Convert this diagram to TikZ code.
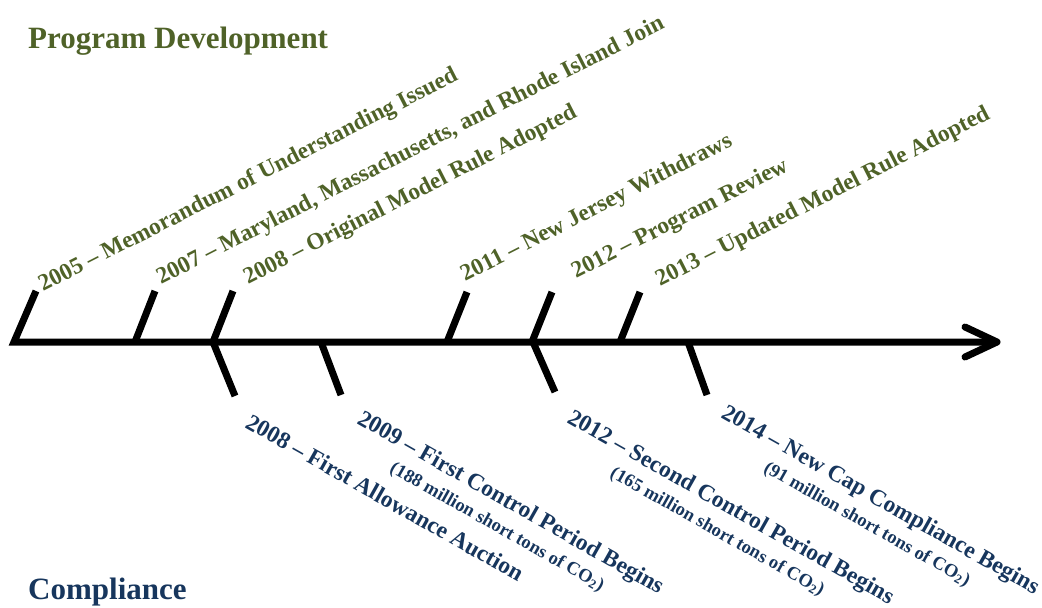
\documentclass[tikz,border=0pt]{standalone}
\usepackage{fontspec}
\setmainfont{Liberation Serif}
\usetikzlibrary{calc}
\definecolor{devgreen}{HTML}{4F6228}
\definecolor{compblue}{HTML}{17365D}
\begin{document}
\begin{tikzpicture}[x=1pt,y=-1pt,
  axisline/.style={line width=7pt, line join=miter},
  tickline/.style={line width=7pt, line cap=butt},
  headline/.style={line width=7pt, line cap=round, line join=round},
  uplabel/.style={anchor=base west, rotate=27, inner sep=0pt, text=devgreen,
    font=\bfseries\fontsize{23.5}{28}\selectfont},
  lowlabel/.style={anchor=base west, rotate=-29.5, inner sep=0pt, text=compblue,
    font=\bfseries\fontsize{23.5}{27}\selectfont},
  sublabel/.style={anchor=base, rotate=-29.5, inner sep=0pt, text=compblue,
    font=\bfseries\fontsize{18.5}{22}\selectfont},
  title/.style={anchor=base west, inner sep=0pt, font=\bfseries\fontsize{31}{37}\selectfont},
]
\useasboundingbox (0,0) rectangle (1042,608);

% axis
\coordinate (start) at (14,342);
\coordinate (tip) at (997,342);
\coordinate (axend) at (993,342);
\coordinate (barbU) at (965,327);
\coordinate (barbL) at (965,357);

% upper tick ends
\coordinate (u1t) at (36,291);
\coordinate (u2b) at (135,342);  \coordinate (u2t) at (155,291);
\coordinate (u3b) at (213,342);  \coordinate (u3t) at (233,291);
\coordinate (u4b) at (447,342);  \coordinate (u4t) at (467,292);
\coordinate (u5b) at (532,342);  \coordinate (u5t) at (552,292);
\coordinate (u6b) at (620,342);  \coordinate (u6t) at (640,292);
% lower tick ends
\coordinate (l1b) at (213,342);  \coordinate (l1t) at (235,396);
\coordinate (l2b) at (321,342);  \coordinate (l2t) at (341,395);
\coordinate (l3b) at (533,342);  \coordinate (l3t) at (555,392);
\coordinate (l4b) at (688,342);  \coordinate (l4t) at (707,395);

\draw[axisline] (u1t) -- (start) -- (axend);
\draw[headline] (barbU) -- (tip) -- (barbL);
\foreach \i in {2,...,6} \draw[tickline] (u\i b) -- (u\i t);
\foreach \i in {1,...,4} \draw[tickline] (l\i b) -- (l\i t);

% titles
\node[title, text=devgreen] (pd) at (28,48) {Program Development};
\node[title, text=compblue] (cp) at (28,599) {Compliance};

% upper labels
\node[uplabel] (e2005) at (43,292) {2005 -- Memorandum of Understanding Issued};
\node[uplabel] (e2007) at (161,285) {2007 -- Maryland, Massachusetts, and Rhode Island Join};
\node[uplabel] (e2008) at (248,285) {2008 -- Original Model Rule Adopted};
\node[uplabel] (e2011) at (465,282) {2011 -- New Jersey Withdraws};
\node[uplabel] (e2012) at (576,279) {2012 -- Program Review};
\node[uplabel] (e2013) at (660,287) {2013 -- Updated Model Rule Adopted};

% lower labels
\node[lowlabel] (c2008) at (244,427) {2008 -- First Allowance Auction};
\node[lowlabel] (c2009) at (356,423) {2009 -- First Control Period Begins};
\node[sublabel] (c2009s) at ($(c2009.base)+(-12.8,22.6)$) {(188 million short tons of CO\textsubscript{2})};
\node[lowlabel] (c2012) at (566,422) {2012 -- Second Control Period Begins};
\node[sublabel] (c2012s) at ($(c2012.base)+(-12.8,22.6)$) {(165 million short tons of CO\textsubscript{2})};
\node[lowlabel] (c2014) at (720,417) {2014 -- New Cap Compliance Begins};
\node[sublabel] (c2014s) at ($(c2014.base)+(-12.8,22.6)$) {(91 million short tons of CO\textsubscript{2})};
\end{tikzpicture}
\end{document}
